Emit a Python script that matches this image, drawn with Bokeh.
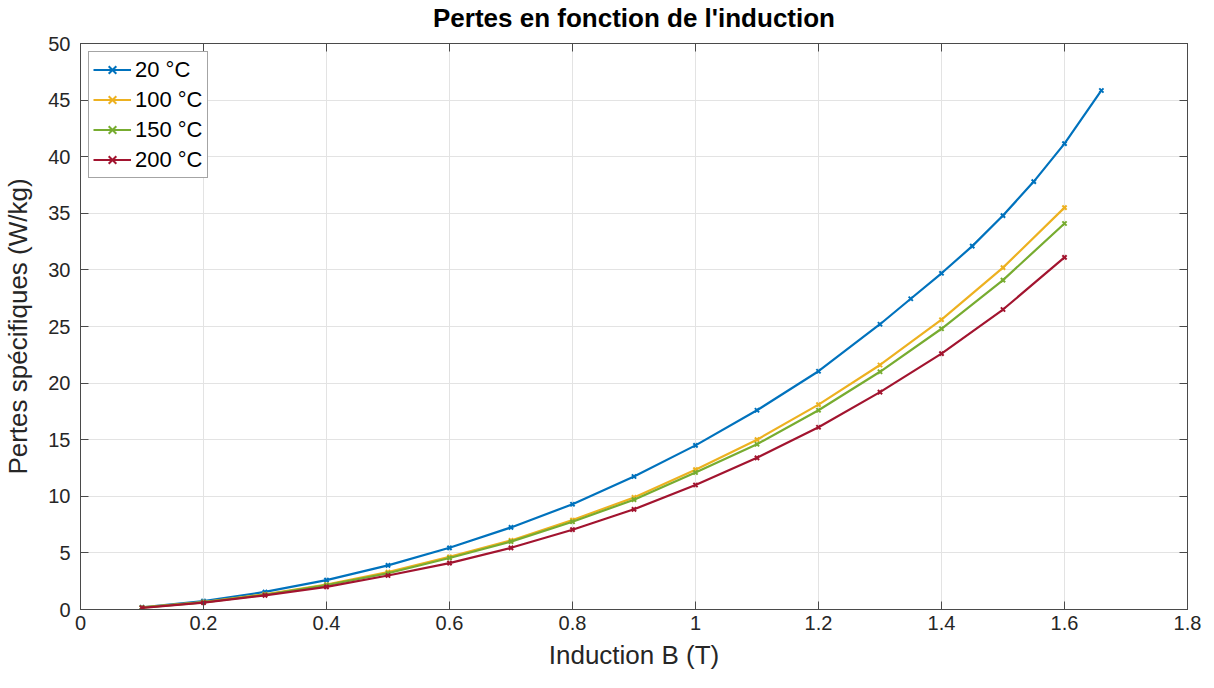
from bokeh.plotting import figure
from bokeh.models import LinearAxis, FixedTicker, Range1d, Legend, LegendItem, CustomLabelingPolicy
from bokeh.embed import file_html
from bokeh.resources import INLINE

# ---- data ----
x20 = [0.1, 0.2, 0.3, 0.4, 0.5, 0.6, 0.7, 0.8, 0.9, 1.0, 1.1, 1.2, 1.3, 1.35, 1.4, 1.45, 1.5, 1.55, 1.6, 1.66]
y20 = [0.2, 0.75, 1.55, 2.6, 3.9, 5.45, 7.25, 9.3, 11.75, 14.5, 17.6, 21.05, 25.2, 27.45, 29.7, 32.1, 34.8, 37.8, 41.15, 45.85]

x_other = [0.1, 0.2, 0.3, 0.4, 0.5, 0.6, 0.7, 0.8, 0.9, 1.0, 1.1, 1.2, 1.3, 1.4, 1.5, 1.6]
y100 = [0.18, 0.65, 1.35, 2.2, 3.3, 4.65, 6.1, 7.9, 9.9, 12.35, 15.0, 18.1, 21.6, 25.6, 30.2, 35.5]
y150 = [0.17, 0.63, 1.3, 2.15, 3.2, 4.55, 6.0, 7.75, 9.7, 12.1, 14.6, 17.6, 21.0, 24.8, 29.1, 34.1]
y200 = [0.15, 0.6, 1.25, 2.0, 3.0, 4.1, 5.45, 7.05, 8.85, 11.0, 13.4, 16.1, 19.2, 22.6, 26.5, 31.1]

labels = ["20 °C", "100 °C", "150 °C", "200 °C"]
colors = ["#0072BD", "#EDB120", "#77AC30", "#A2142F"]

x_ticks = [0, 0.2, 0.4, 0.6, 0.8, 1, 1.2, 1.4, 1.6, 1.8]
x_tick_labels = ["0", "0.2", "0.4", "0.6", "0.8", "1", "1.2", "1.4", "1.6", "1.8"]
y_ticks = [0, 5, 10, 15, 20, 25, 30, 35, 40, 45, 50]

FONT = "Liberation Sans"
AXC = "#4a4a4a"

p = figure(width=1202, height=672, output_backend="svg", toolbar_location=None,
           x_range=Range1d(0, 1.8), y_range=Range1d(0, 50),
           title="Pertes en fonction de l'induction",
           min_border_left=10, min_border_right=3, min_border_top=0, min_border_bottom=10)

p.title.text_font = FONT
p.title.text_font_size = "26px"
p.title.text_font_style = "bold"
p.title.align = "center"
p.title.text_color = "#000000"
p.title.standoff = 0

p.outline_line_color = AXC
p.outline_line_width = 1
p.background_fill_color = "white"
p.border_fill_color = "white"

xt = FixedTicker(ticks=x_ticks)
yt = FixedTicker(ticks=y_ticks)

p.xaxis.ticker = xt
p.yaxis.ticker = yt
p.xaxis.major_label_overrides = {t: l for t, l in zip(x_ticks, x_tick_labels)}

for ax in (p.xaxis[0], p.yaxis[0]):
    ax.major_tick_in = 8
    ax.major_tick_out = 0
    ax.minor_tick_in = 0
    ax.minor_tick_out = 0
    ax.axis_line_color = AXC
    ax.major_tick_line_color = AXC
    ax.major_label_text_font = FONT
    ax.major_label_text_font_size = "20px"
    ax.major_label_text_color = "#262626"
    ax.axis_label_text_font = FONT
    ax.axis_label_text_font_size = "26px"
    ax.axis_label_text_font_style = "normal"
    ax.axis_label_text_color = "#262626"

p.xaxis.axis_label = "Induction B (T)"
p.yaxis.axis_label = "Pertes spécifiques (W/kg)"
p.xaxis.major_label_standoff = 6
p.yaxis.major_label_standoff = 10
p.xaxis.axis_label_standoff = 7
p.yaxis.axis_label_standoff = 12

# mirrored ticks on top and right, without labels
no_labels = CustomLabelingPolicy(code="for (let i = 0; i < indices.size; i++) { indices.unset(i) } return indices")
for loc, tk in (("above", xt), ("right", yt)):
    a = LinearAxis(ticker=tk, major_tick_in=8, major_tick_out=0, minor_tick_in=0, minor_tick_out=0,
                   axis_line_color=AXC, major_tick_line_color=AXC,
                   major_label_policy=no_labels, major_label_standoff=0)
    p.add_layout(a, loc)

p.xgrid.grid_line_color = "#e3e3e3"
p.ygrid.grid_line_color = "#e3e3e3"
p.xgrid.ticker = xt
p.ygrid.ticker = yt

series = [(x20, y20), (x_other, y100), (x_other, y150), (x_other, y200)]
items = []
for (xs, ys), lab, c in zip(series, labels, colors):
    r1 = p.line(xs, ys, line_color=c, line_width=2.2)
    r2 = p.scatter(xs, ys, marker="x", size=6, line_color=c, line_width=2)
    items.append(LegendItem(label=lab, renderers=[r1, r2]))

legend = Legend(items=items, location="top_left")
legend.label_text_font = FONT
legend.label_text_font_size = "22px"
legend.label_text_color = "#000000"
legend.border_line_color = "#4a4a4a"
legend.border_line_width = 1
legend.background_fill_alpha = 1
legend.margin = 8
legend.padding = 4
legend.spacing = 3
legend.glyph_width = 38
legend.glyph_height = 27
legend.label_height = 27
legend.label_standoff = 4
p.add_layout(legend, "center")

open("out.html", "w").write(file_html(p, INLINE))
